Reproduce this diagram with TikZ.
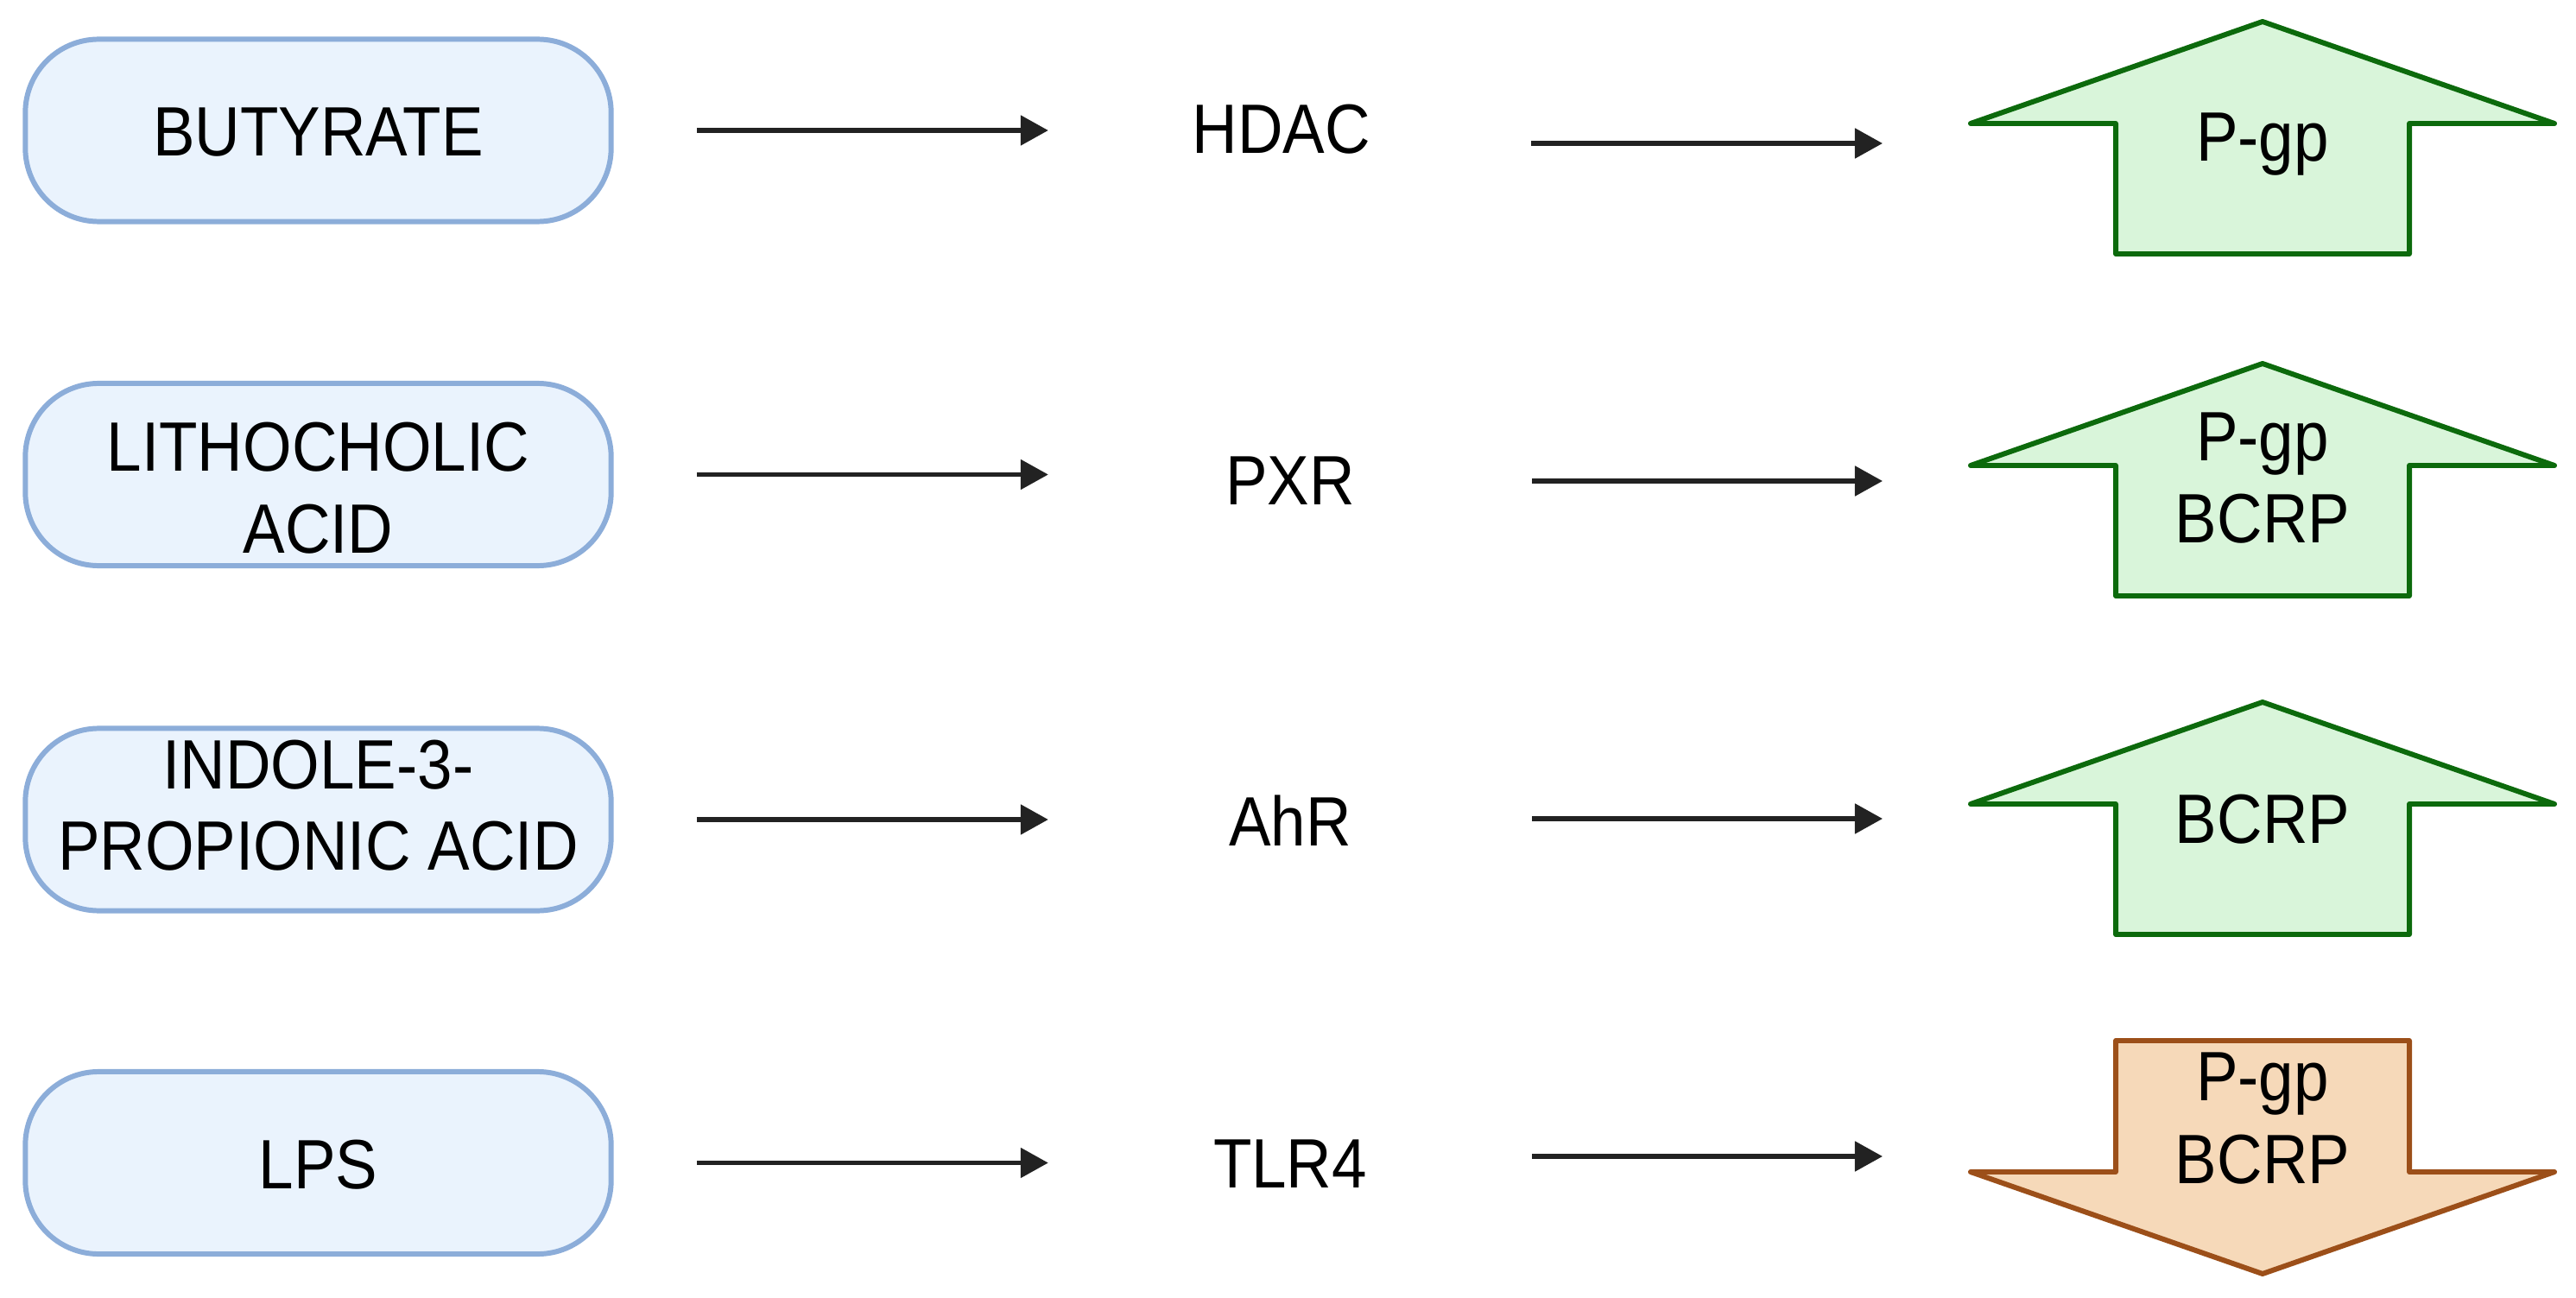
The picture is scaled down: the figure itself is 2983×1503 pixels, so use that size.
\documentclass[tikz,border=0pt]{standalone}
\usepackage{fontspec}
\setmainfont[FakeStretch=0.9]{Liberation Sans}
\usetikzlibrary{arrows.meta}
\definecolor{boxfill}{HTML}{EAF3FD}
\definecolor{boxline}{HTML}{8CADD9}
\definecolor{upfill}{HTML}{D9F5DA}
\definecolor{upline}{HTML}{0C6A0C}
\definecolor{downfill}{HTML}{F6D9B9}
\definecolor{downline}{HTML}{9C4F19}
\definecolor{conncol}{HTML}{222222}
\begin{document}
\begin{tikzpicture}[x=0.01cm, y=-0.01cm,
  every node/.style={font=\fontsize{23pt}{27pt}\selectfont, inner sep=0pt, outer sep=0pt},
  srcbox/.style={draw=boxline, fill=boxfill, line width=1.7pt, rounded corners=0.85cm, minimum width=6.78cm, minimum height=2.11cm},
  lbl/.style={anchor=base, text=black},
  midlbl/.style={anchor=base, text=black, minimum width=5.6cm},
  conn/.style={draw=conncol, line width=1.5pt, -{Triangle[length=0.32cm, width=0.34cm]}},
  upshape/.style={draw=upline, fill=upfill, line width=1.7pt, line join=round},
  downshape/.style={draw=downline, fill=downfill, line width=1.7pt, line join=round}]
\useasboundingbox (0,0) rectangle (2983,1503);

% source boxes
\node[srcbox] (b1) at (368.5,151) {};
\node[srcbox] (b2) at (368.5,549.5) {};
\node[srcbox] (b3) at (368.5,949) {};
\node[srcbox] (b4) at (368.5,1346.5) {};

\node[lbl] (t1) at (368.5,181) {BUTYRATE};
\node[lbl] (t2a) at (368.5,545) {LITHOCHOLIC};
\node[lbl] (t2b) at (368.5,640) {ACID};
\node[lbl] (t3a) at (368.5,913) {INDOLE-3-};
\node[lbl] (t3b) at (368.5,1007) {PROPIONIC ACID};
\node[lbl] (t4) at (368.5,1376) {LPS};

% mediators
\node[midlbl, minimum width=5.4cm] (m1) at (1484,178) {HDAC};
\node[midlbl] (m2) at (1494,584) {PXR};
\node[midlbl] (m3) at (1494,979) {AhR};
\node[midlbl] (m4) at (1494,1375) {TLR4};

% effect shapes
\draw[upshape] (2620,25) -- (2958,143) -- (2790,143) -- (2790,294) -- (2450,294) -- (2450,143) -- (2282,143) -- cycle;
\draw[upshape] (2620,421) -- (2958,539) -- (2790,539) -- (2790,690) -- (2450,690) -- (2450,539) -- (2282,539) -- cycle;
\draw[upshape] (2620,813) -- (2958,931) -- (2790,931) -- (2790,1082) -- (2450,1082) -- (2450,931) -- (2282,931) -- cycle;
\draw[downshape] (2450,1205) -- (2790,1205) -- (2790,1357) -- (2958,1357) -- (2620,1475) -- (2282,1357) -- (2450,1357) -- cycle;

\node[lbl] (p1) at (2620,187) {P-gp};
\node[lbl] (p2a) at (2620,533) {P-gp};
\node[lbl] (p2b) at (2620,628) {BCRP};
\node[lbl] (p3) at (2620,976) {BCRP};
\node[lbl] (p4a) at (2620,1274) {P-gp};
\node[lbl] (p4b) at (2620,1370) {BCRP};

\coordinate (r1) at (2180,166);
\coordinate (r2) at (2180,557);
\coordinate (r3) at (2180,948);
\coordinate (r4) at (2180,1339);

% connectors
\draw[conn, shorten <=0.99cm] (b1.east) -- (b1.east -| m1.west);
\draw[conn, shorten <=0.99cm] (b2.east) -- (b2.east -| m2.west);
\draw[conn, shorten <=0.99cm] (b3.east) -- (b3.east -| m3.west);
\draw[conn, shorten <=0.99cm] (b4.east) -- (b4.east -| m4.west);
\draw[conn, shorten <=0.19cm] (m1.east |- r1) -- (r1);
\draw[conn] (m2.east |- r2) -- (r2);
\draw[conn] (m3.east |- r3) -- (r3);
\draw[conn] (m4.east |- r4) -- (r4);
\end{tikzpicture}
\end{document}
